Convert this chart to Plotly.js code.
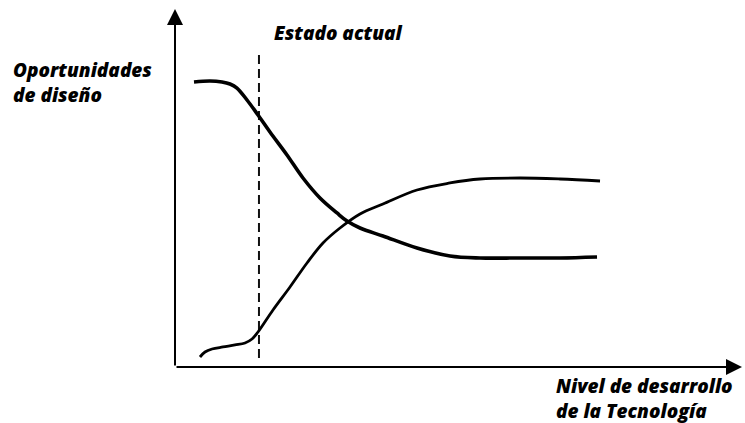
<!DOCTYPE html>
<html>
<head>
<meta charset="utf-8">
<script src="https://cdn.plot.ly/plotly-3.0.1.min.js"></script>
<style>html,body{margin:0;padding:0;background:#fff;}#chart{width:745px;height:423px;}</style>
</head>
<body>
<div id="chart"></div>
<script>
// Falling curve: design opportunities
const oppX = [3.35, 6.17, 8.29, 9.70, 10.93, 12.70, 14.64, 16.75, 19.75, 22.57, 25.57, 28.57, 30.34, 32.63, 36.68, 42.68, 48.50, 53.79, 60.85, 67.90, 74.43];
const oppY = [79.61, 79.89, 79.61, 79.05, 77.93, 74.58, 70.39, 65.64, 59.22, 52.79, 47.21, 43.02, 40.78, 38.83, 36.59, 33.24, 31.01, 30.45, 30.45, 30.45, 30.73];
// Rising curve: technology development
const techX = [4.41, 5.29, 6.53, 8.47, 10.58, 12.35, 13.58, 14.64, 17.28, 20.28, 23.28, 26.10, 29.10, 32.63, 36.68, 42.68, 48.50, 53.79, 60.85, 67.90, 74.96];
const techY = [2.79, 4.19, 5.03, 5.59, 6.15, 6.70, 7.82, 9.78, 15.92, 22.35, 29.05, 34.64, 38.83, 42.74, 45.53, 49.44, 51.40, 52.51, 52.79, 52.51, 51.96];
// Current state marker
const currentX = [14.81, 14.81];
const currentY = [2.5, 88.0];
// Labels
const labelCurrent = 'Estado actual';
const labelY = 'Oportunidades<br>de diseño';
const labelX = 'Nivel de desarrollo<br>de la Tecnología';
const axisMax = 100;

const font = {family: 'Open Sans', size: 19, color: '#000', weight: 800, style: 'italic'};

const traces = [
  {x: currentX, y: currentY, mode: 'lines', line: {color: '#111', width: 2, dash: '9px,5px'}, hoverinfo: 'skip'},
  {x: oppX, y: oppY, mode: 'lines', line: {color: '#000', width: 3.6, shape: 'spline', smoothing: 1}, hoverinfo: 'skip'},
  {x: techX, y: techY, mode: 'lines', line: {color: '#000', width: 2.8, shape: 'spline', smoothing: 1}, hoverinfo: 'skip'}
];

function textAnn(text, x, y) {
  return {text: text, x: x / axisMax, y: y / axisMax, xref: 'paper', yref: 'paper', showarrow: false,
          xanchor: 'left', yanchor: 'middle', align: 'left', font: font};
}
function arrowAnn(x, y, ax, ay) {
  return {text: '', x: x, y: y, ax: ax, ay: ay, xref: 'x', yref: 'y', axref: 'x', ayref: 'y', showarrow: true,
          arrowhead: 2, arrowsize: 1.6, arrowwidth: 2, arrowcolor: '#000', standoff: 0, startstandoff: 0};
}

const layout = {
  width: 745, height: 423,
  margin: {l: 175, r: 3, t: 9, b: 56},
  paper_bgcolor: '#fff', plot_bgcolor: '#fff',
  showlegend: false,
  xaxis: {range: [0, axisMax], visible: false, fixedrange: true},
  yaxis: {range: [0, axisMax], visible: false, fixedrange: true},
  annotations: [
    arrowAnn(0, axisMax, 0, 0),
    arrowAnn(axisMax, 0, 0, 0),
    textAnn(labelCurrent, 17.1, 93.3),
    textAnn(labelY, -28.9, 79.5),
    textAnn(labelX, 66.8, -8.8)
  ]
};

Plotly.newPlot('chart', traces, layout, {staticPlot: true, displayModeBar: false});
</script>
</body>
</html>
